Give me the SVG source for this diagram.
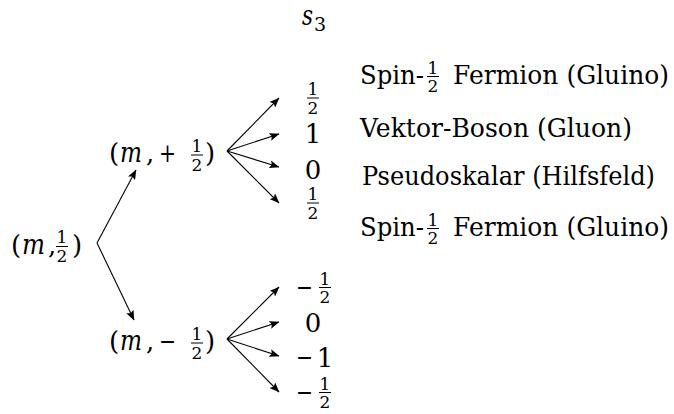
<svg xmlns="http://www.w3.org/2000/svg" width="674" height="414" viewBox="0 0 674 414" font-family="DejaVu Serif">
<defs>
<marker id="ah" viewBox="0 0 10 8" refX="9.5" refY="4" markerWidth="10" markerHeight="8" markerUnits="userSpaceOnUse" orient="auto">
<path d="M0,0 L10,4 L0,8 L2,4 z" fill="#000"/>
</marker>
</defs>
<style>
text{fill:#000}
.t{font-size:26px}
.it{font-size:27px;font-style:italic}
.d{font-size:26px;text-anchor:middle}
.fr{font-size:17px;text-anchor:middle}
.sub{font-size:19px}
.bar{stroke:#000;stroke-width:1}
.a{stroke:#000;stroke-width:1.1;fill:none;marker-end:url(#ah)}
</style>
<rect width="674" height="414" fill="#fff"/>

<g id="header" font-family="DejaVu Serif">
<text class="it" x="302" y="25" textLength="11" lengthAdjust="spacingAndGlyphs">s</text>
<text class="sub" x="314" y="31">3</text>
</g>

<g id="root" font-family="DejaVu Serif">
<text class="t" x="11" y="254">(</text>
<text class="it" x="22" y="254" textLength="23" lengthAdjust="spacingAndGlyphs">m</text>
<text class="t" x="48" y="254">,</text>
<text class="fr" x="62" y="243">1</text>
<line class="bar" x1="56" y1="246.5" x2="68" y2="246.5"/>
<text class="fr" x="62" y="262">2</text>
<text class="t" x="72" y="254">)</text>
</g>

<g id="plus" font-family="DejaVu Serif">
<text class="t" x="109" y="162">(</text>
<text class="it" x="120" y="162" textLength="22" lengthAdjust="spacingAndGlyphs">m</text>
<text class="t" x="146" y="162">,</text>
<text class="t" x="159" y="162" textLength="17" lengthAdjust="spacingAndGlyphs">+</text>
<text class="fr" x="197" y="152">1</text>
<line class="bar" x1="191" y1="155" x2="203" y2="155"/>
<text class="fr" x="197" y="170.5">2</text>
<text class="t" x="205" y="162">)</text>
</g>

<g id="minus" font-family="DejaVu Serif">
<text class="t" x="109" y="350">(</text>
<text class="it" x="120" y="350" textLength="22" lengthAdjust="spacingAndGlyphs">m</text>
<text class="t" x="146" y="350">,</text>
<text class="t" x="159" y="350" textLength="17" lengthAdjust="spacingAndGlyphs">−</text>
<text class="fr" x="197" y="340">1</text>
<line class="bar" x1="191" y1="343" x2="203" y2="343"/>
<text class="fr" x="197" y="358.5">2</text>
<text class="t" x="205" y="350">)</text>
</g>

<g id="s3-plus" font-family="DejaVu Serif">
<text class="fr" x="313" y="95">1</text>
<line class="bar" x1="307" y1="98" x2="319" y2="98"/>
<text class="fr" x="313" y="113.5">2</text>
<text class="d" x="313" y="143">1</text>
<text class="d" x="313" y="179">0</text>
<text class="fr" x="313" y="200">1</text>
<line class="bar" x1="307" y1="203" x2="319" y2="203"/>
<text class="fr" x="313" y="218.5">2</text>
</g>

<g id="s3-minus" font-family="DejaVu Serif">
<text class="t" x="296" y="296" textLength="17" lengthAdjust="spacingAndGlyphs">−</text>
<text class="fr" x="325" y="284.5">1</text>
<line class="bar" x1="319" y1="287.5" x2="331" y2="287.5"/>
<text class="fr" x="325" y="303">2</text>
<text class="d" x="313" y="332">0</text>
<text class="t" x="296" y="366" textLength="17" lengthAdjust="spacingAndGlyphs">−</text>
<text class="d" x="325" y="367">1</text>
<text class="t" x="296" y="401" textLength="17" lengthAdjust="spacingAndGlyphs">−</text>
<text class="fr" x="325" y="389.5">1</text>
<line class="bar" x1="319" y1="392.5" x2="331" y2="392.5"/>
<text class="fr" x="325" y="408">2</text>
</g>

<g id="labels" font-family="DejaVu Serif">
<text class="t" x="360" y="84" textLength="64" lengthAdjust="spacingAndGlyphs">Spin-</text>
<text class="fr" x="433" y="73.5">1</text>
<line class="bar" x1="427" y1="76.5" x2="439" y2="76.5"/>
<text class="fr" x="433" y="92">2</text>
<text class="t" x="453" y="84" textLength="216" lengthAdjust="spacingAndGlyphs">Fermion (Gluino)</text>
<text class="t" x="360" y="137" textLength="272" lengthAdjust="spacingAndGlyphs">Vektor-Boson (Gluon)</text>
<text class="t" x="362" y="185" textLength="293" lengthAdjust="spacingAndGlyphs">Pseudoskalar (Hilfsfeld)</text>
<text class="t" x="360" y="236" textLength="64" lengthAdjust="spacingAndGlyphs">Spin-</text>
<text class="fr" x="433" y="225.5">1</text>
<line class="bar" x1="427" y1="228.5" x2="439" y2="228.5"/>
<text class="fr" x="433" y="244">2</text>
<text class="t" x="453" y="236" textLength="216" lengthAdjust="spacingAndGlyphs">Fermion (Gluino)</text>
</g>

<g id="connectors">
<line class="a" x1="97" y1="243" x2="136" y2="170"/>
<line class="a" x1="97" y1="243" x2="134" y2="320"/>
<line class="a" x1="227" y1="151" x2="279" y2="98"/>
<line class="a" x1="227" y1="151" x2="279" y2="134"/>
<line class="a" x1="227" y1="151" x2="279" y2="167"/>
<line class="a" x1="227" y1="151" x2="279" y2="203"/>
<line class="a" x1="227" y1="339" x2="279" y2="287"/>
<line class="a" x1="227" y1="339" x2="279" y2="322"/>
<line class="a" x1="227" y1="339" x2="279" y2="356"/>
<line class="a" x1="227" y1="339" x2="279" y2="392"/>
</g>
</svg>
